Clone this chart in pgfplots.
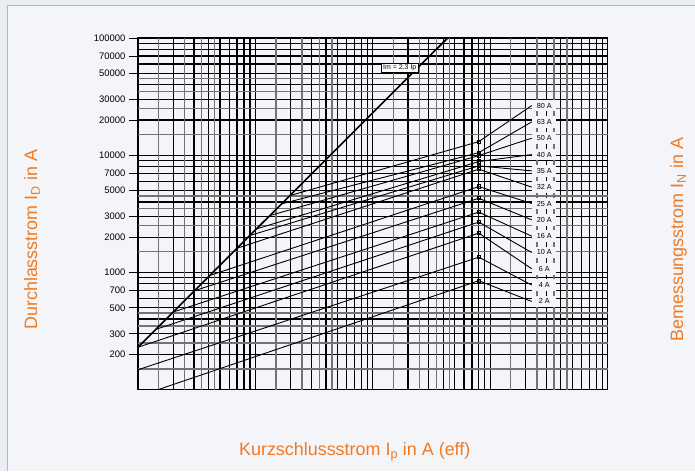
\documentclass[border=0pt]{standalone}
\usepackage{pgfplots}
\pgfplotsset{compat=1.18}
\usepackage{fontspec}
\setmainfont{Liberation Sans}

\definecolor{lblorange}{RGB}{240,122,34}
\definecolor{panelbg}{RGB}{243,245,248}
\definecolor{outerbg}{RGB}{234,238,243}
\definecolor{framecol}{RGB}{168,188,207}
\definecolor{gridgray}{RGB}{115,115,115}

\begin{document}
\begin{tikzpicture}[x=1bp,y=1bp]
\fill[outerbg] (0,0) rectangle (695,471);
\fill[panelbg] (8,0) rectangle (695,465);
\draw[framecol, line width=1bp] (8,0) -- (8,465) -- (695,465);

\begin{axis}[
    at={(138bp,81bp)}, anchor=south west,
    scale only axis, width=470bp, height=352bp,
    xmode=log, ymode=log,
    xmin=100, xmax=1000000, ymin=100, ymax=100000,
    axis line style={black, line width=1.3bp},
    tick align=outside, xtick pos=bottom, ytick pos=left,
    xmajorticks=false,
    xtick={200,300,500,700,1000,2000,3000,5000,7000,10000,20000,30000,50000,70000,100000,200000,300000,500000,700000,1000000},
    xticklabels={200,300,500,700,1000,2000,3000,5000,7000,10000,20000,30000,50000,70000,100000,200000,300000,500000,700000,1e+06},
    minor xtick={400,600,800,900,4000,6000,8000,9000,40000,60000,80000,90000,400000,600000,800000,900000},
    extra x ticks={150,250,350,450,1500,2500,3500,4500,15000,25000,35000,45000,150000,250000,350000,450000},
    extra x tick labels={},
    extra x tick style={major grid style={gridgray, line width=1.3bp}, major tick length=0pt},
    ytick={200,300,500,700,1000,2000,3000,5000,7000,10000,20000,30000,50000,70000,100000},
    yticklabels={200,300,500,700,1000,2000,3000,5000,7000,10000,20000,30000,50000,70000,100000},
    minor ytick={400,600,800,900,4000,6000,8000,9000,40000,60000,80000,90000},
    extra y ticks={150,250,350,450,1500,2500,3500,4500,15000,25000,35000,45000},
    extra y tick labels={},
    extra y tick style={major grid style={gridgray, line width=1.3bp}, major tick length=0pt},
    grid=both,
    major grid style={black, line width=1.3bp},
    minor grid style={black, line width=1.3bp},
    major tick length=9bp, minor tick length=0pt,
    every tick/.style={black, line width=0.8bp},
    xticklabel style={rotate=90, anchor=east, font=\fontsize{9.5}{11}\selectfont},
    yticklabel style={font=\fontsize{9.5}{11}\selectfont},
]

% Im = 2.3 Ip
\addplot[black, line width=1.6bp] coordinates {(100,230) (50000,115000)};

% fuse curves: start, peak (marker), leader to label
\pgfplotsset{fuse/.style={black, line width=0.9bp, mark=square, mark indices={2}, mark size=1.6bp, mark options={line width=1bp}}}
\addplot[fuse] coordinates {(1966,4522) (80000,13060) (226000,26500)};
\addplot[fuse] coordinates {(1672,3846) (80000,10520) (226000,19240)};
\addplot[fuse] coordinates {(1328,3054) (80000,9930) (226000,13970)};
\addplot[fuse] coordinates {(1023,2353) (80000,8830) (226000,10120)};
\addplot[fuse] coordinates {(898,2065) (80000,8110) (226000,7350)};
\addplot[fuse] coordinates {(700,1610) (80000,7600) (226000,5340)};
\addplot[fuse] coordinates {(410,943) (80000,5400) (226000,3873)};
\addplot[fuse] coordinates {(304,699) (80000,4290) (226000,2810)};
\addplot[fuse] coordinates {(200,460) (80000,3270) (226000,2040)};
\addplot[fuse] coordinates {(142,327) (80000,2690) (226000,1480)};
\addplot[fuse] coordinates {(100,230) (80000,2165) (226000,1075)};
\addplot[fuse] coordinates {(100,148) (80000,1350) (226000,780)};
\addplot[fuse] coordinates {(148,100) (80000,850) (226000,566)};

\tikzset{flbl/.style={anchor=west, fill=panelbg, inner sep=0.5bp, minimum width=24bp, minimum height=11.5bp, font=\fontsize{7.3}{8}\selectfont}}
\node[flbl] at (axis cs:228000,26500) {80 A};
\node[flbl] at (axis cs:228000,19240) {63 A};
\node[flbl] at (axis cs:228000,13970) {50 A};
\node[flbl] at (axis cs:228000,10120) {40 A};
\node[flbl] at (axis cs:228000,7350) {35 A};
\node[flbl] at (axis cs:228000,5340) {32 A};
\node[flbl] at (axis cs:228000,3873) {25 A};
\node[flbl] at (axis cs:228000,2810) {20 A};
\node[flbl] at (axis cs:228000,2040) {16 A};
\node[flbl] at (axis cs:228000,1480) {10 A};
\node[flbl] at (axis cs:228000,1075) {6 A};
\node[flbl] at (axis cs:228000,780) {4 A};
\node[flbl] at (axis cs:228000,566) {2 A};

\node[draw=black, fill=white, line width=0.6bp, inner sep=1.5bp, font=\fontsize{7}{8}\selectfont] at (axis cs:17000,55500) {Im = 2.3 Ip};
\end{axis}

\node[rotate=90, text=lblorange, font=\fontsize{18}{20}\selectfont] at (32,231) {Durchlassstrom I\textsubscript{D} in A};
\node[rotate=90, text=lblorange, font=\fontsize{18}{20}\selectfont] at (679,231) {Bemessungsstrom I\textsubscript{N} in A};
\node[text=lblorange, font=\fontsize{18}{20}\selectfont] at (355,19) {Kurzschlussstrom I\textsubscript{p} in A (eff)};
\end{tikzpicture}
\end{document}
